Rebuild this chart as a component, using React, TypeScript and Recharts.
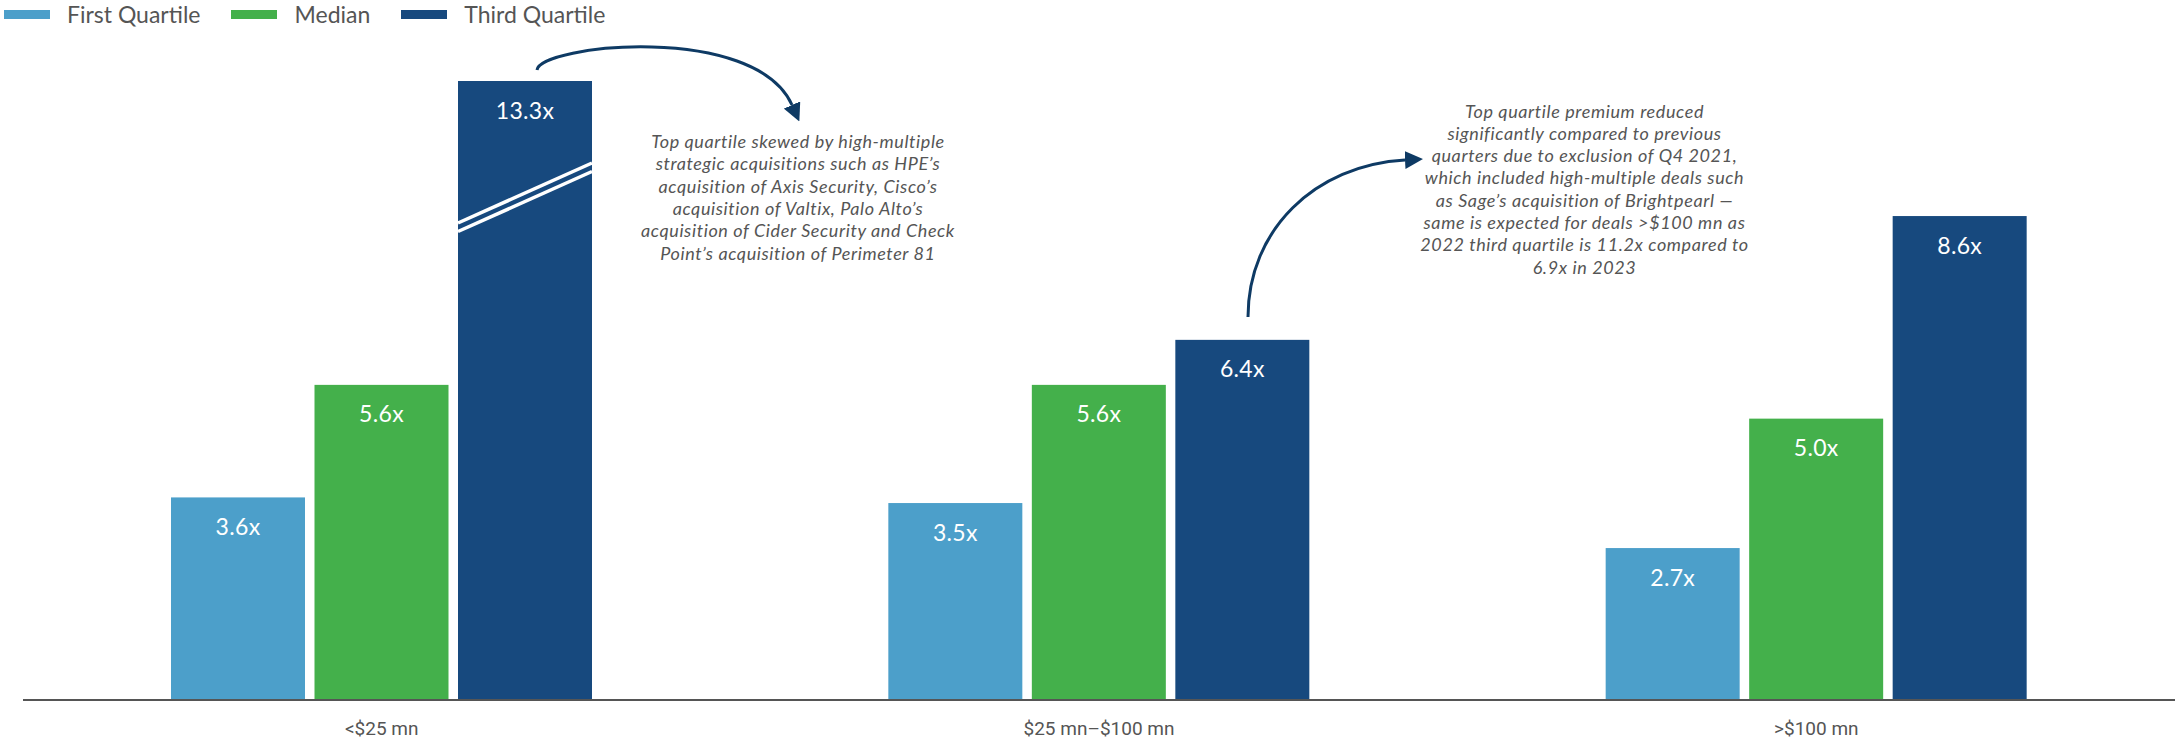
import React from 'react';
import { BarChart, Bar, XAxis, YAxis, Legend, Customized } from 'recharts';

const categories = ['<$25 mn', '$25 mn–$100 mn', '>$100 mn'];
const firstQuartile = [3.6, 3.5, 2.7];
const median = [5.6, 5.6, 5.0];
const thirdQuartile = [13.3, 6.4, 8.6];

const seriesNames = ['First Quartile', 'Median', 'Third Quartile'];
const seriesKeys = ['q1', 'med', 'q3'];
const seriesColors = ['#4C9FCA', '#44B04B', '#17497E'];

// bars taller than this get cut with a break mark
const AXIS_BREAK = 11;

const noteLeft = [
  'Top quartile skewed by high-multiple',
  'strategic acquisitions such as HPE’s',
  'acquisition of Axis Security, Cisco’s',
  'acquisition of Valtix, Palo Alto’s',
  'acquisition of Cider Security and Check',
  'Point’s acquisition of Perimeter 81',
];

const noteRight = [
  'Top quartile premium reduced',
  'significantly compared to previous',
  'quarters due to exclusion of Q4 2021,',
  'which included high-multiple deals such',
  'as Sage’s acquisition of Brightpearl —',
  'same is expected for deals >$100 mn as',
  '2022 third quartile is 11.2x compared to',
  '6.9x in 2023',
];

const data = categories.map((name, i) => ({
  name,
  q1: firstQuartile[i],
  med: median[i],
  q3: thirdQuartile[i],
}));

const ARROW = '#0E3A64';
const TEXT = '#555555';

function BarWithLabel(props: any) {
  const { x, y, width, height, fill, value, background } = props;
  const v = Array.isArray(value) ? value[1] : value;
  const bottom = y + height;
  const plotTop = background && typeof background.y === 'number' ? background.y : 81;
  const top = Math.max(y, plotTop);
  const broken = y < plotTop - 0.5;
  return (
    <g>
      <rect x={x} y={top} width={width} height={bottom - top} fill={fill} />
      {broken && (
        <g stroke="#fff" strokeWidth={3.5}>
          <line x1={x} y1={top + 142} x2={x + width} y2={top + 82} />
          <line x1={x} y1={top + 150.5} x2={x + width} y2={top + 90.5} />
        </g>
      )}
      <text
        x={x + width / 2}
        y={top + 37.5}
        textAnchor="middle"
        fill="#fff"
        fontSize={23}
        letterSpacing={0.3}
        fontFamily="Lato, sans-serif"
      >
        {Number(v).toFixed(1)}x
      </text>
    </g>
  );
}

function CategoryTick(props: any) {
  const { x, y, payload } = props;
  return (
    <text x={x} y={y + 35} textAnchor="middle" fill={TEXT} fontSize={19} fontFamily="Roboto, sans-serif">
      {payload.value}
    </text>
  );
}

function LegendContent() {
  return (
    <div style={{ paddingLeft: 4, paddingBottom: 5, height: 29, display: 'flex', alignItems: 'center' }}>
      {seriesNames.map((n, i) => (
        <div key={n} style={{ display: 'flex', alignItems: 'center', marginRight: 31 }}>
          <span style={{ display: 'inline-block', width: 46, height: 9, background: seriesColors[i], marginRight: 17 }} />
          <span style={{ fontFamily: 'Lato, sans-serif', fontSize: 23, lineHeight: '29px', color: TEXT }}>{n}</span>
        </div>
      ))}
    </div>
  );
}

function Notes() {
  return (
    <g>
      <defs>
        <marker id="arrowHead" markerWidth="6" markerHeight="6" refX="0" refY="3" orient="auto" markerUnits="strokeWidth">
          <path d="M0,0 L6,3 L0,6 Z" fill={ARROW} />
        </marker>
      </defs>
      <path d="M537,70 C540,45 755,22 792,105" fill="none" stroke={ARROW} strokeWidth={3} markerEnd="url(#arrowHead)" />
      <path d="M1248,317 C1248,230 1315,165 1405,160" fill="none" stroke={ARROW} strokeWidth={3} markerEnd="url(#arrowHead)" />
      <text textAnchor="middle" fill={TEXT} fontSize={18} letterSpacing={0.6} fontStyle="italic" fontFamily="Lato, sans-serif">
        {noteLeft.map((l, i) => (
          <tspan key={i} x={798} y={148 + i * 22.3}>{l}</tspan>
        ))}
      </text>
      <text textAnchor="middle" fill={TEXT} fontSize={18} letterSpacing={0.6} fontStyle="italic" fontFamily="Lato, sans-serif">
        {noteRight.map((l, i) => (
          <tspan key={i} x={1584.5} y={117.5 + i * 22.3}>{l}</tspan>
        ))}
      </text>
    </g>
  );
}

export default function App() {
  return (
    <div style={{ position: 'absolute', left: 0, top: 0, width: 2175, height: 741, background: '#fff' }}>
      <BarChart
        width={2175}
        height={741}
        data={data}
        margin={{ top: 47, right: 0, bottom: 0, left: 23 }}
        barGap={9.5}
      >
        <Legend
          verticalAlign="top"
          align="left"
          content={() => <LegendContent />}
          wrapperStyle={{ top: 0, left: 0, margin: 0, padding: 0 }}
        />
        <XAxis
          dataKey="name"
          height={41}
          interval={0}
          tickLine={false}
          tickSize={0}
          tickMargin={0}
          axisLine={{ stroke: '#555', strokeWidth: 2 }}
          tick={<CategoryTick />}
        />
        <YAxis hide type="number" domain={[0, AXIS_BREAK]} allowDataOverflow />
        {seriesKeys.map((k, i) => (
          <Bar
            key={k}
            dataKey={k}
            name={seriesNames[i]}
            fill={seriesColors[i]}
            barSize={134}
            isAnimationActive={false}
            shape={(p: any) => <BarWithLabel {...p} />}
          />
        ))}
        <Customized component={<Notes />} />
      </BarChart>
    </div>
  );
}
